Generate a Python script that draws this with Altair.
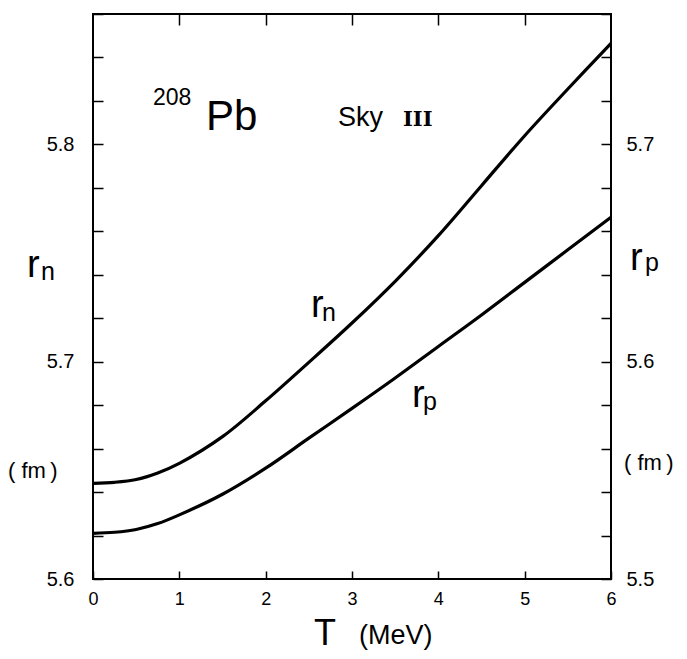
import altair as alt
import pandas as pd

# ---- data ----
T = [0, 0.25, 0.5, 0.75, 1, 1.5, 2, 2.5, 3, 3.5, 4, 4.5, 5, 5.5, 6]
rn = [5.644, 5.6445, 5.6458, 5.6488, 5.6532, 5.6655, 5.682, 5.6997, 5.7178,
      5.737, 5.758, 5.781, 5.804, 5.8255, 5.8465]
rp = [5.521, 5.5215, 5.5228, 5.5255, 5.5295, 5.539, 5.551, 5.5648, 5.5785,
      5.5925, 5.607, 5.6215, 5.6365, 5.6515, 5.6665]

x_ticks = [0, 1, 2, 3, 4, 5, 6]
top_ticks = [1, 2, 3, 4, 5]
rn_ticks = [5.60, 5.62, 5.64, 5.66, 5.68, 5.70, 5.72, 5.74, 5.76, 5.78, 5.80, 5.82, 5.84, 5.86]
rp_ticks = [5.50, 5.52, 5.54, 5.56, 5.58, 5.60, 5.62, 5.64, 5.66, 5.68, 5.70, 5.72, 5.74, 5.76]

# annotation texts (left x, baseline y in pixels relative to plot area, font size)
ann_text = ["208", "Pb", "Sky", "r", "n", "r", "p",
            "r", "n", "( fm\u2009)", "r", "p", "( fm\u2009)", "T", "(MeV)"]
ann_x = [60, 113, 245, 218, 229, 319, 330,
         -66, -52, -85, 537, 552, 531, 221, 266]
ann_y = [91, 116, 112, 303, 307, 393, 396,
         263, 266, 464, 256, 257, 456, 631, 630]
ann_size = [23, 42, 27, 38, 25, 38, 25,
            38, 25, 22, 38, 25, 22, 36, 27]

roman_text = ["III"]
roman_x = [310]
roman_y = [112]

LABEL_EXPR = "abs(datum.value*10 - round(datum.value*10)) < 0.001 ? format(datum.value, '.1f') : ''"
FONT = "Liberation Sans"

df = pd.DataFrame({"T": T, "rn": rn, "rp": rp})
ann = pd.DataFrame({"label": ann_text, "px": ann_x, "py": ann_y, "fs": ann_size})
roman = pd.DataFrame({"label": roman_text, "px": roman_x, "py": roman_y})

xscale = alt.Scale(domain=[0, 6], nice=False, zero=False)

line_n = alt.Chart(df).mark_line(color="black", strokeWidth=3.2, interpolate="catmull-rom").encode(
    x=alt.X("T:Q", scale=xscale,
            axis=alt.Axis(orient="bottom", values=x_ticks, offset=-8, tickSize=8,
                          domain=False, grid=False, title=None, labelPadding=11,
                          labelFontSize=18, format="d", labelFlush=False, labelOverlap=False)),
    y=alt.Y("rn:Q", scale=alt.Scale(domain=[5.6, 5.86], nice=False, zero=False),
            axis=alt.Axis(orient="left", values=rn_ticks, offset=-10, tickSize=10,
                          domain=False, grid=False, title=None, labelPadding=19,
                          labelFontSize=20, labelExpr=LABEL_EXPR, labelFlush=False,
                          labelOverlap=False)),
)

line_p = alt.Chart(df).mark_line(color="black", strokeWidth=3.2, interpolate="catmull-rom").encode(
    x=alt.X("T:Q", scale=xscale,
            axis=alt.Axis(orient="top", values=top_ticks, offset=-11, tickSize=11,
                          domain=False, grid=False, title=None, labels=False)),
    y=alt.Y("rp:Q", scale=alt.Scale(domain=[5.5, 5.76], nice=False, zero=False),
            axis=alt.Axis(orient="right", values=rp_ticks, offset=-10, tickSize=10,
                          domain=False, grid=False, title=None, labelPadding=15,
                          labelFontSize=20, labelExpr=LABEL_EXPR, labelFlush=False,
                          labelOverlap=False)),
)

text = alt.Chart(ann).mark_text(align="left", baseline="alphabetic", color="black", font=FONT).encode(
    x=alt.X("px:Q", scale=None, axis=None),
    y=alt.Y("py:Q", scale=None, axis=None),
    text="label:N",
    size=alt.Size("fs:Q", scale=None, legend=None),
)

roman_num = alt.Chart(roman).mark_text(
    align="left", baseline="alphabetic", color="black", font="DejaVu Serif",
    fontSize=21, fontWeight="bold"
).encode(
    x=alt.X("px:Q", scale=None, axis=None),
    y=alt.Y("py:Q", scale=None, axis=None),
    text="label:N",
)

chart = alt.layer(line_n, line_p, text, roman_num).resolve_scale(
    x="independent", y="independent"
).properties(
    width=518,
    height=565,
    autosize=alt.AutoSizeParams(type="none"),
    padding={"left": 85, "top": 6, "right": 68, "bottom": 72},
    background="white",
).configure_view(
    stroke="black", strokeWidth=2
).configure_axis(
    tickColor="black", tickWidth=1.5, labelColor="black", labelFont=FONT
)

chart.save("out.html", embed_options={"renderer": "svg", "actions": False})
